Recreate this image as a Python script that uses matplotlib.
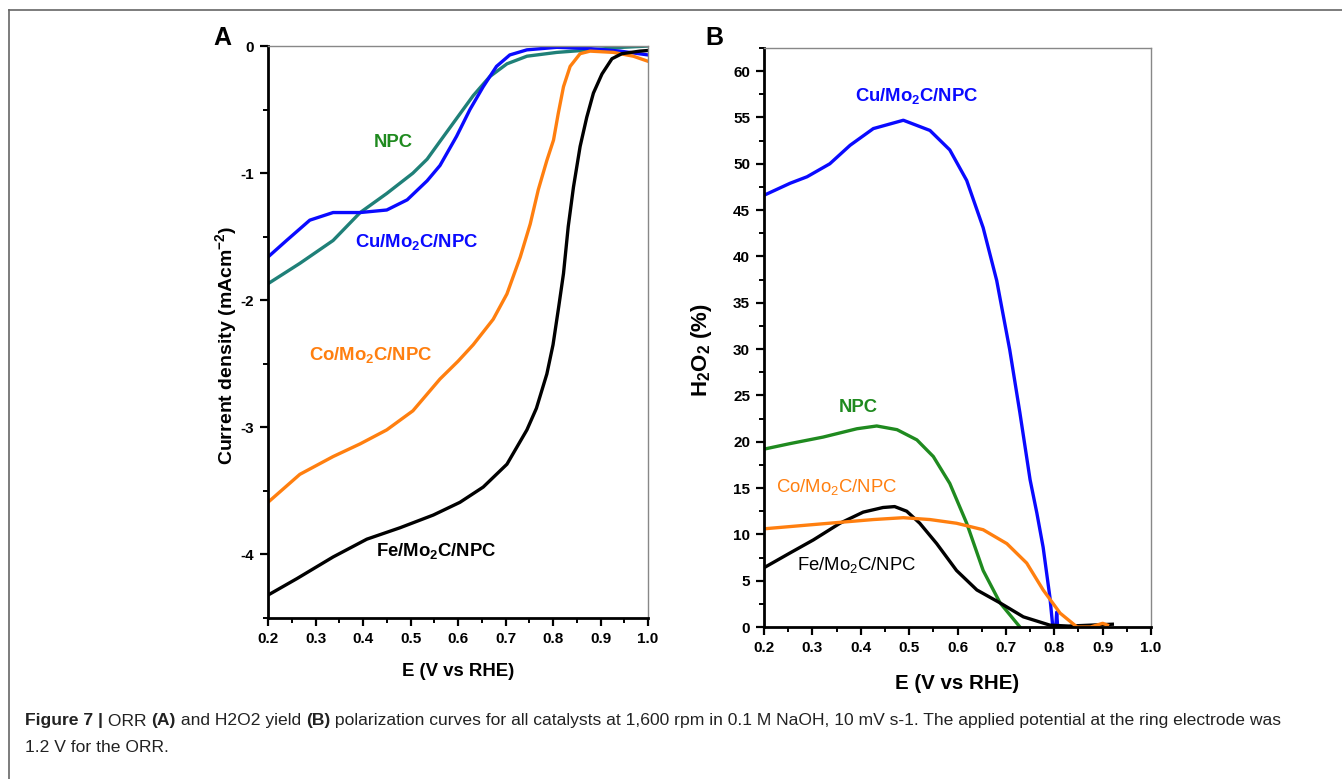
import matplotlib
matplotlib.use("Agg")
import matplotlib.pyplot as plt
from matplotlib.ticker import MultipleLocator
from matplotlib.lines import Line2D

plt.rcParams['font.family'] = ['Liberation Sans', 'DejaVu Sans']
plt.rcParams['mathtext.default'] = 'regular'

# ---------------- Panel A data (E in V vs RHE, current density mA cm-2)
cu_a_x = [0.2, 0.239, 0.288, 0.337, 0.394, 0.45, 0.493, 0.535, 0.562, 0.597, 0.625, 0.653, 0.681, 0.709, 0.745, 0.808, 0.878, 0.941, 1.0]
cu_a_y = [-1.66, -1.53, -1.37, -1.31, -1.31, -1.29, -1.21, -1.06, -0.94, -0.71, -0.50, -0.32, -0.16, -0.07, -0.03, -0.01, -0.02, -0.04, -0.07]

npc_a_x = [0.2, 0.267, 0.337, 0.394, 0.45, 0.505, 0.535, 0.562, 0.597, 0.632, 0.667, 0.703, 0.745, 0.808, 0.878, 0.947, 1.0]
npc_a_y = [-1.87, -1.71, -1.53, -1.31, -1.16, -1.0, -0.89, -0.75, -0.57, -0.39, -0.24, -0.14, -0.08, -0.05, -0.03, -0.01, 0.0]

co_a_x = [0.2, 0.267, 0.337, 0.394, 0.45, 0.505, 0.562, 0.6, 0.632, 0.674, 0.703, 0.731, 0.752, 0.769, 0.787, 0.801, 0.811, 0.822, 0.836, 0.857, 0.878, 0.927, 0.969, 1.0]
co_a_y = [-3.59, -3.37, -3.23, -3.13, -3.02, -2.87, -2.62, -2.48, -2.35, -2.15, -1.95, -1.66, -1.40, -1.13, -0.90, -0.74, -0.53, -0.32, -0.16, -0.06, -0.04, -0.05, -0.08, -0.12]

fe_a_x = [0.2, 0.261, 0.337, 0.408, 0.478, 0.548, 0.604, 0.653, 0.703, 0.745, 0.765, 0.787, 0.8, 0.812, 0.822, 0.832, 0.843, 0.857, 0.871, 0.885, 0.903, 0.924, 0.945, 0.983, 1.0]
fe_a_y = [-4.32, -4.19, -4.02, -3.88, -3.79, -3.69, -3.59, -3.47, -3.29, -3.02, -2.85, -2.58, -2.35, -2.05, -1.79, -1.42, -1.11, -0.79, -0.56, -0.37, -0.22, -0.10, -0.06, -0.04, -0.035]

# ---------------- Panel B data (H2O2 %)
cu_b_x = [0.2, 0.254, 0.289, 0.336, 0.378, 0.426, 0.488, 0.543, 0.584, 0.619, 0.653, 0.681, 0.708, 0.729, 0.75, 0.764, 0.777, 0.791, 0.797, 0.803, 0.805, 0.807]
cu_b_y = [46.6, 47.9, 48.6, 50.0, 52.0, 53.8, 54.7, 53.6, 51.5, 48.2, 43.1, 37.4, 29.9, 23.1, 15.9, 12.3, 8.6, 3.2, 0.0, 0.0, 1.6, 0.0]

npc_b_x = [0.2, 0.254, 0.322, 0.392, 0.433, 0.475, 0.516, 0.55, 0.584, 0.619, 0.653, 0.688, 0.729]
npc_b_y = [19.2, 19.8, 20.5, 21.4, 21.7, 21.3, 20.2, 18.4, 15.5, 11.2, 6.1, 2.6, 0.0]

co_b_x = [0.2, 0.289, 0.357, 0.426, 0.488, 0.543, 0.598, 0.653, 0.702, 0.743, 0.777, 0.812, 0.847, 0.875, 0.9, 0.91]
co_b_y = [10.6, 11.0, 11.3, 11.6, 11.8, 11.6, 11.2, 10.5, 9.0, 6.9, 4.0, 1.5, 0.0, 0.0, 0.4, 0.2]

fe_b_x = [0.2, 0.254, 0.302, 0.357, 0.405, 0.446, 0.47, 0.495, 0.522, 0.557, 0.598, 0.64, 0.688, 0.736, 0.791, 0.83, 0.92]
fe_b_y = [6.4, 8.0, 9.4, 11.2, 12.4, 12.9, 13.0, 12.5, 11.2, 9.0, 6.1, 4.0, 2.6, 1.1, 0.2, 0.1, 0.3]

x_ticks = [0.2, 0.3, 0.4, 0.5, 0.6, 0.7, 0.8, 0.9, 1.0]
a_yticks = [0, -1, -2, -3, -4]
b_yticks = [0, 5, 10, 15, 20, 25, 30, 35, 40, 45, 50, 55, 60]

BLUE = '#0a0aff'
TEAL = '#1f8078'
GREEN = '#1f8a1f'
ORANGE = '#ff7f0f'
BLACK = '#000000'

fig = plt.figure(figsize=(13.42, 7.79), dpi=100)

def style(ax):
    for s in ['left', 'bottom']:
        ax.spines[s].set_linewidth(2.0)
        ax.spines[s].set_color('black')
    for s in ['top', 'right']:
        ax.spines[s].set_linewidth(1.0)
        ax.spines[s].set_color('#888888')
    ax.tick_params(which='major', direction='out', length=6, width=1.6,
                   labelsize=11, pad=4)
    ax.tick_params(which='minor', direction='out', length=3.5, width=1.4)
    ax.xaxis.set_minor_locator(MultipleLocator(0.05))
    for lab in ax.get_xticklabels() + ax.get_yticklabels():
        lab.set_fontweight('bold')

# ---------- Panel A
axA = fig.add_axes([0.1997, 0.2067, 0.2832, 0.7342])
lw = 2.4
axA.plot(npc_a_x, npc_a_y, color=TEAL, lw=lw)
axA.plot(cu_a_x, cu_a_y, color=BLUE, lw=lw)
axA.plot(co_a_x, co_a_y, color=ORANGE, lw=lw)
axA.plot(fe_a_x, fe_a_y, color=BLACK, lw=lw)
axA.set_xlim(0.2, 1.0)
axA.set_ylim(-4.5, 0)
axA.set_xticks(x_ticks)
axA.set_xticklabels([f'{v:.1f}' for v in x_ticks])
axA.set_yticks(a_yticks)
axA.set_yticklabels([str(v) for v in a_yticks])
axA.yaxis.set_minor_locator(MultipleLocator(0.5))
style(axA)
axA.set_xlabel('E (V vs RHE)', fontsize=13.4, fontweight='bold', labelpad=12)
axA.set_ylabel('Current density (mAcm$^{-2}$)', fontsize=14, fontweight='bold')
axA.yaxis.set_label_coords(-0.076, 0.477)
axA.text(0.463, -0.756, 'NPC', color=GREEN, fontsize=13.3, fontweight='bold', ha='center', va='center')
axA.text(0.514, -1.54, 'Cu/Mo$_2$C/NPC', color=BLUE, fontsize=13.3, fontweight='bold', ha='center', va='center')
axA.text(0.417, -2.43, 'Co/Mo$_2$C/NPC', color=ORANGE, fontsize=13.3, fontweight='bold', ha='center', va='center')
axA.text(0.554, -3.97, 'Fe/Mo$_2$C/NPC', color=BLACK, fontsize=13.3, fontweight='bold', ha='center', va='center')
fig.text(222 / 1342, 1 - 38 / 779, 'A', fontsize=18, fontweight='bold', ha='center', va='center')

# ---------- Panel B
axB = fig.add_axes([0.5693, 0.1951, 0.2884, 0.7433])
axB.plot(cu_b_x, cu_b_y, color=BLUE, lw=lw)
axB.plot(npc_b_x, npc_b_y, color=GREEN, lw=lw)
axB.plot(fe_b_x, fe_b_y, color=BLACK, lw=lw)
axB.plot(co_b_x, co_b_y, color=ORANGE, lw=lw)
axB.set_xlim(0.2, 1.0)
axB.set_ylim(0, 62.5)
axB.set_xticks(x_ticks)
axB.set_xticklabels([f'{v:.1f}' for v in x_ticks])
axB.set_yticks(b_yticks)
axB.set_yticklabels([str(v) for v in b_yticks])
axB.yaxis.set_minor_locator(MultipleLocator(2.5))
style(axB)
axB.set_xlabel('E (V vs RHE)', fontsize=14.8, fontweight='bold', labelpad=14)
axB.set_ylabel('H$_2$O$_2$ (%)', fontsize=16, fontweight='bold')
axB.yaxis.set_label_coords(-0.129, 0.478)
axB.text(0.516, 57.3, 'Cu/Mo$_2$C/NPC', color=BLUE, fontsize=13.3, fontweight='bold', ha='center', va='center')
axB.text(0.394, 23.7, 'NPC', color=GREEN, fontsize=13.3, fontweight='bold', ha='center', va='center')
axB.text(0.351, 15.1, 'Co/Mo$_2$C/NPC', color=ORANGE, fontsize=13.3, ha='center', va='center')
axB.text(0.392, 6.7, 'Fe/Mo$_2$C/NPC', color=BLACK, fontsize=13.3, ha='center', va='center')
fig.text(714 / 1342, 1 - 38 / 779, 'B', fontsize=18, fontweight='bold', ha='center', va='center')

# ---------- Outer frame
fig.add_artist(Line2D([9 / 1342, 1.0], [1 - 10 / 779] * 2, transform=fig.transFigure, color='#666666', lw=1.2))
fig.add_artist(Line2D([9 / 1342] * 2, [1 - 10 / 779, 0.0], transform=fig.transFigure, color='#666666', lw=1.2))

# ---------- Caption
CAP = 12.6
t1 = fig.text(25 / 1342, 1 - 721 / 779, 'Figure 7 |', fontsize=CAP, fontweight='bold', color='#222222', va='center')
parts = [(' ORR ', 'normal'), ('(A)', 'bold'), (' and H2O2 yield ', 'normal'), ('(B)', 'bold'),
         (' polarization curves for all catalysts at 1,600 rpm in 0.1 M NaOH, 10 mV s-1. The applied potential at the ring electrode was', 'normal')]
prev = t1
for txt, wt in parts:
    prev = axA.annotate(txt, xy=(1, 0.5), xycoords=prev, va='center', ha='left', fontsize=CAP,
                        fontweight=wt, color='#222222', annotation_clip=False)
fig.text(25 / 1342, 1 - 748 / 779, '1.2 V for the ORR.', fontsize=CAP, color='#222222', va='center')

fig.savefig('out.png', dpi=100)
